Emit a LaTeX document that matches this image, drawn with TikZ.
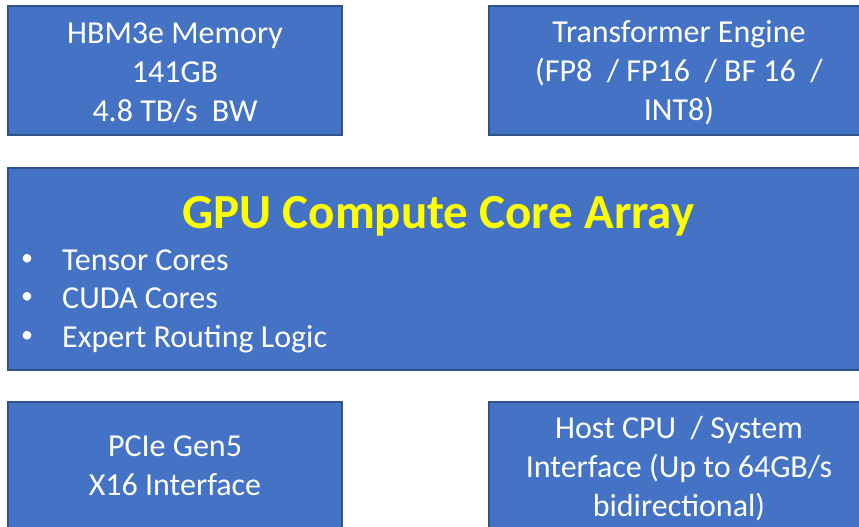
\documentclass[tikz,border=0pt]{standalone}
\usepackage{fontspec}
\setmainfont{Carlito}
\definecolor{boxfill}{HTML}{4472C4}
\definecolor{boxline}{HTML}{2F528F}
\definecolor{titleyellow}{HTML}{FFFF00}
\begin{document}
\begin{tikzpicture}[x=1pt,y=-1pt,
  blockbox/.style={draw=boxline,line width=1.2pt,fill=boxfill,inner sep=0pt},
  boxtext/.style={text=white,align=center,inner sep=0pt,font=\fontsize{32}{39}\selectfont},
  titletext/.style={text=titleyellow,font=\fontsize{49}{58}\bfseries\selectfont,inner sep=0pt,anchor=base},
  bullettext/.style={text=white,font=\fontsize{32}{39}\selectfont,inner sep=0pt,anchor=base west},
  bulletdot/.style={text=white,font=\fontsize{24}{30}\selectfont,inner sep=0pt,anchor=center}]
\useasboundingbox (0,0) rectangle (859,527);
\clip (0,0) rectangle (859,527);
\fill[white] (0,0) rectangle (859,527);
% boxes
\node[blockbox,minimum width=334pt,minimum height=129pt] (hbm) at (175,70.5) {};
\node[blockbox,minimum width=380pt,minimum height=129pt] (te) at (679,70.5) {};
\node[blockbox,minimum width=862pt,minimum height=202pt] (gpu) at (439,269) {};
\node[blockbox,minimum width=334pt,minimum height=126pt] (pcie) at (175,465) {};
\node[blockbox,minimum width=380pt,minimum height=129pt] (host) at (679,466.5) {};
% box texts
\node[boxtext] (hbmtext) at (175,72.5) {HBM3e Memory\\141GB\\4.8 TB/s \ BW};
\node[boxtext] (tetext) at (679,73) {Transformer Engine\\(FP8 \ / FP16 \ / BF 16 \ /\\INT8)};
\node[boxtext] (pcietext) at (175,466) {PCIe Gen5\\X16 Interface};
\node[boxtext] (hosttext) at (679,469) {Host CPU \ / System\\Interface (Up to 64GB/s\\bidirectional)};
% GPU contents
\node[titletext] (title) at (438.5,228) {GPU Compute Core Array};
\node[bullettext] (b1) at (62,270) {Tensor Cores};
\node[bullettext] (b2) at (62,308.5) {CUDA Cores};
\node[bullettext] (b3) at (62,347) {Expert Routing Logic};
\node[bulletdot] (d1) at (27,260) {•};
\node[bulletdot] (d2) at (27,298.5) {•};
\node[bulletdot] (d3) at (27,337) {•};
\end{tikzpicture}
\end{document}
